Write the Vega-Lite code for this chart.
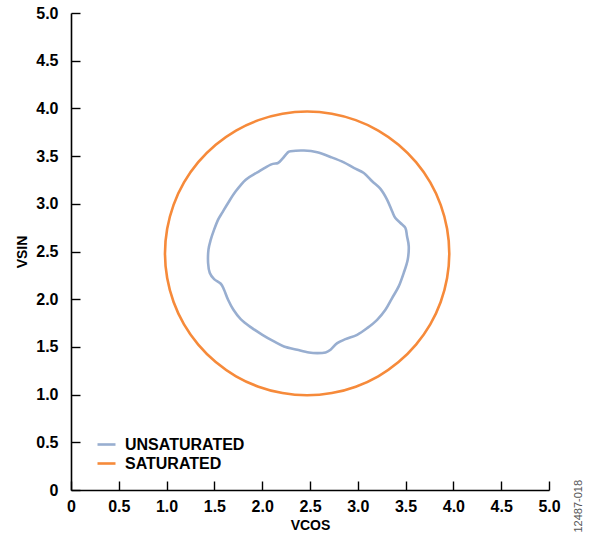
{
  "$schema": "https://vega.github.io/schema/vega-lite/v6.json",
  "width": 478,
  "height": 477,
  "autosize": {"type": "none"},
  "padding": {"left": 71, "top": 13, "right": 41, "bottom": 46},
  "background": "white",
  "config": {
    "view": {"stroke": null},
    "font": "Liberation Sans",
    "axis": {
      "grid": false,
      "domainColor": "#000000",
      "domainWidth": 1.6,
      "tickColor": "#000000",
      "tickWidth": 1.4,
      "tickSize": -9,
      "labelFont": "Liberation Sans",
      "labelFontWeight": "bold",
      "labelFontSize": 16,
      "labelColor": "#000000",
      "titleFont": "Liberation Sans",
      "titleFontWeight": "bold",
      "titleFontSize": 14,
      "titleColor": "#000000"
    }
  },
  "layer": [
    {
      "data": {
        "values": [
          {"s":"SATURATED","i":0,"x":3.957,"y":2.48},
          {"s":"SATURATED","i":1,"x":3.934,"y":2.738},
          {"s":"SATURATED","i":2,"x":3.867,"y":2.989},
          {"s":"SATURATED","i":3,"x":3.758,"y":3.224},
          {"s":"SATURATED","i":4,"x":3.609,"y":3.436},
          {"s":"SATURATED","i":5,"x":3.426,"y":3.619},
          {"s":"SATURATED","i":6,"x":3.214,"y":3.768},
          {"s":"SATURATED","i":7,"x":2.979,"y":3.877},
          {"s":"SATURATED","i":8,"x":2.728,"y":3.944},
          {"s":"SATURATED","i":9,"x":2.47,"y":3.967},
          {"s":"SATURATED","i":10,"x":2.212,"y":3.944},
          {"s":"SATURATED","i":11,"x":1.961,"y":3.877},
          {"s":"SATURATED","i":12,"x":1.726,"y":3.768},
          {"s":"SATURATED","i":13,"x":1.514,"y":3.619},
          {"s":"SATURATED","i":14,"x":1.331,"y":3.436},
          {"s":"SATURATED","i":15,"x":1.182,"y":3.224},
          {"s":"SATURATED","i":16,"x":1.073,"y":2.989},
          {"s":"SATURATED","i":17,"x":1.006,"y":2.738},
          {"s":"SATURATED","i":18,"x":0.983,"y":2.48},
          {"s":"SATURATED","i":19,"x":1.006,"y":2.222},
          {"s":"SATURATED","i":20,"x":1.073,"y":1.971},
          {"s":"SATURATED","i":21,"x":1.182,"y":1.736},
          {"s":"SATURATED","i":22,"x":1.331,"y":1.524},
          {"s":"SATURATED","i":23,"x":1.514,"y":1.341},
          {"s":"SATURATED","i":24,"x":1.726,"y":1.192},
          {"s":"SATURATED","i":25,"x":1.961,"y":1.083},
          {"s":"SATURATED","i":26,"x":2.212,"y":1.016},
          {"s":"SATURATED","i":27,"x":2.47,"y":0.993},
          {"s":"SATURATED","i":28,"x":2.728,"y":1.016},
          {"s":"SATURATED","i":29,"x":2.979,"y":1.083},
          {"s":"SATURATED","i":30,"x":3.214,"y":1.192},
          {"s":"SATURATED","i":31,"x":3.426,"y":1.341},
          {"s":"SATURATED","i":32,"x":3.609,"y":1.524},
          {"s":"SATURATED","i":33,"x":3.758,"y":1.736},
          {"s":"SATURATED","i":34,"x":3.867,"y":1.971},
          {"s":"SATURATED","i":35,"x":3.934,"y":2.222},
          {"s":"UNSATURATED","i":0,"x":2.263,"y":3.533},
          {"s":"UNSATURATED","i":1,"x":2.297,"y":3.551},
          {"s":"UNSATURATED","i":2,"x":2.437,"y":3.558},
          {"s":"UNSATURATED","i":3,"x":2.576,"y":3.54},
          {"s":"UNSATURATED","i":4,"x":2.715,"y":3.491},
          {"s":"UNSATURATED","i":5,"x":2.854,"y":3.435},
          {"s":"UNSATURATED","i":6,"x":2.958,"y":3.376},
          {"s":"UNSATURATED","i":7,"x":3.063,"y":3.323},
          {"s":"UNSATURATED","i":8,"x":3.15,"y":3.236},
          {"s":"UNSATURATED","i":9,"x":3.237,"y":3.156},
          {"s":"UNSATURATED","i":10,"x":3.306,"y":3.044},
          {"s":"UNSATURATED","i":11,"x":3.359,"y":2.921},
          {"s":"UNSATURATED","i":12,"x":3.393,"y":2.851},
          {"s":"UNSATURATED","i":13,"x":3.446,"y":2.799},
          {"s":"UNSATURATED","i":14,"x":3.498,"y":2.746},
          {"s":"UNSATURATED","i":15,"x":3.515,"y":2.659},
          {"s":"UNSATURATED","i":16,"x":3.533,"y":2.554},
          {"s":"UNSATURATED","i":17,"x":3.522,"y":2.414},
          {"s":"UNSATURATED","i":18,"x":3.48,"y":2.274},
          {"s":"UNSATURATED","i":19,"x":3.428,"y":2.134},
          {"s":"UNSATURATED","i":20,"x":3.359,"y":2.012},
          {"s":"UNSATURATED","i":21,"x":3.289,"y":1.889},
          {"s":"UNSATURATED","i":22,"x":3.202,"y":1.784},
          {"s":"UNSATURATED","i":23,"x":3.098,"y":1.697},
          {"s":"UNSATURATED","i":24,"x":2.993,"y":1.627},
          {"s":"UNSATURATED","i":25,"x":2.871,"y":1.581},
          {"s":"UNSATURATED","i":26,"x":2.785,"y":1.539},
          {"s":"UNSATURATED","i":27,"x":2.715,"y":1.47},
          {"s":"UNSATURATED","i":28,"x":2.663,"y":1.442},
          {"s":"UNSATURATED","i":29,"x":2.576,"y":1.435},
          {"s":"UNSATURATED","i":30,"x":2.489,"y":1.442},
          {"s":"UNSATURATED","i":31,"x":2.367,"y":1.47},
          {"s":"UNSATURATED","i":32,"x":2.228,"y":1.505},
          {"s":"UNSATURATED","i":33,"x":2.123,"y":1.557},
          {"s":"UNSATURATED","i":34,"x":2.002,"y":1.627},
          {"s":"UNSATURATED","i":35,"x":1.88,"y":1.707},
          {"s":"UNSATURATED","i":36,"x":1.775,"y":1.791},
          {"s":"UNSATURATED","i":37,"x":1.699,"y":1.889},
          {"s":"UNSATURATED","i":38,"x":1.643,"y":1.994},
          {"s":"UNSATURATED","i":39,"x":1.601,"y":2.099},
          {"s":"UNSATURATED","i":40,"x":1.567,"y":2.162},
          {"s":"UNSATURATED","i":41,"x":1.497,"y":2.211},
          {"s":"UNSATURATED","i":42,"x":1.452,"y":2.274},
          {"s":"UNSATURATED","i":43,"x":1.434,"y":2.379},
          {"s":"UNSATURATED","i":44,"x":1.438,"y":2.519},
          {"s":"UNSATURATED","i":45,"x":1.462,"y":2.624},
          {"s":"UNSATURATED","i":46,"x":1.497,"y":2.729},
          {"s":"UNSATURATED","i":47,"x":1.539,"y":2.834},
          {"s":"UNSATURATED","i":48,"x":1.584,"y":2.911},
          {"s":"UNSATURATED","i":49,"x":1.643,"y":3.009},
          {"s":"UNSATURATED","i":50,"x":1.723,"y":3.131},
          {"s":"UNSATURATED","i":51,"x":1.828,"y":3.253},
          {"s":"UNSATURATED","i":52,"x":1.949,"y":3.33},
          {"s":"UNSATURATED","i":53,"x":2.089,"y":3.411},
          {"s":"UNSATURATED","i":54,"x":2.165,"y":3.428},
          {"s":"UNSATURATED","i":55,"x":2.21,"y":3.47}
        ]
      },
      "mark": {"type": "line", "interpolate": "cardinal-closed", "strokeWidth": 2.6, "clip": false},
      "encoding": {
        "x": {
          "field": "x", "type": "quantitative",
          "scale": {"domain": [0, 5], "nice": false, "zero": false},
          "axis": {
            "title": "VCOS",
            "values": [0, 0.5, 1, 1.5, 2, 2.5, 3, 3.5, 4, 4.5, 5],
            "labelExpr": "datum.value == 0 ? '0' : format(datum.value, '.1f')",
            "labelPadding": 17,
            "titlePadding": 4,
            "labelFlush": false,
            "labelOverlap": false
          }
        },
        "y": {
          "field": "y", "type": "quantitative",
          "scale": {"domain": [0, 5], "nice": false, "zero": false},
          "axis": {
            "title": "VSIN",
            "values": [0, 0.5, 1, 1.5, 2, 2.5, 3, 3.5, 4, 4.5, 5],
            "labelExpr": "datum.value == 0 ? '0' : format(datum.value, '.1f')",
            "labelPadding": 22,
            "titlePadding": 6,
            "labelFlush": false,
            "labelOverlap": false
          }
        },
        "order": {"field": "i", "type": "quantitative"},
        "color": {
          "field": "s", "type": "nominal",
          "scale": {"domain": ["UNSATURATED", "SATURATED"], "range": ["#98aed0", "#f68a3a"]},
          "legend": {
            "title": null,
            "orient": "none",
            "legendX": 25,
            "legendY": 421,
            "padding": 0,
            "symbolType": "stroke",
            "symbolSize": 324,
            "symbolStrokeWidth": 2.6,
            "rowPadding": 0,
            "labelFont": "Liberation Sans",
            "labelFontWeight": "bold",
            "labelFontSize": 16,
            "labelColor": "#000000",
            "labelOffset": 8
          }
        }
      }
    },
    {
      "data": {"values": [{"x": 5.31, "y": -0.17, "t": "12487-018"}]},
      "mark": {"type": "text", "angle": 270, "fontSize": 11, "color": "#555555", "font": "Liberation Sans", "align": "center", "baseline": "middle", "clip": false},
      "encoding": {
        "x": {"field": "x", "type": "quantitative"},
        "y": {"field": "y", "type": "quantitative"},
        "text": {"field": "t"}
      }
    }
  ]
}
